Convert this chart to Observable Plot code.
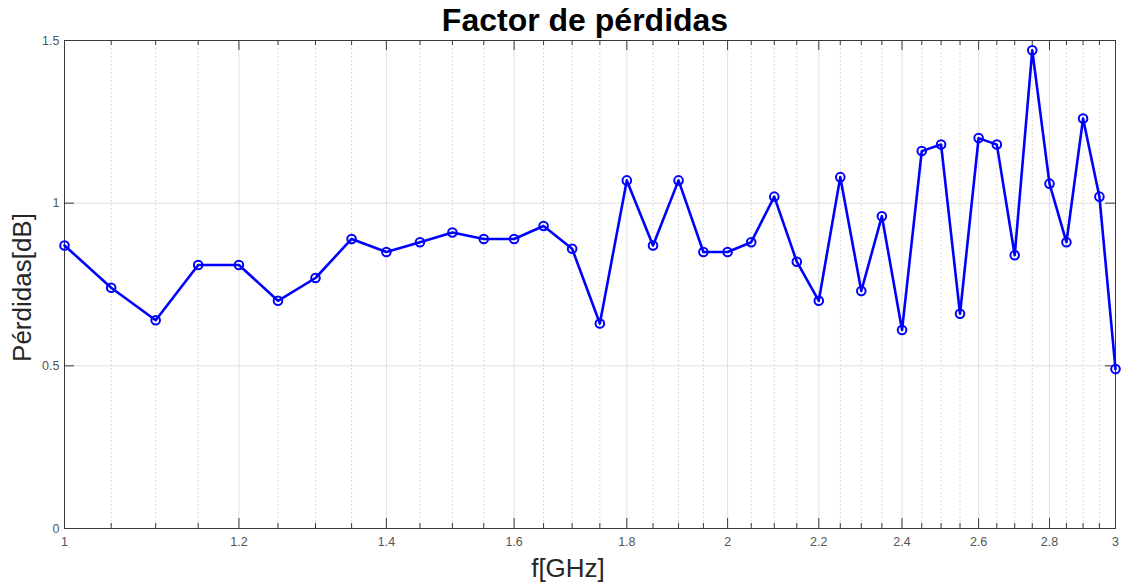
<!DOCTYPE html>
<html>
<head>
<meta charset="utf-8">
<script src="https://cdn.jsdelivr.net/npm/d3@7"></script>
<script src="https://cdn.jsdelivr.net/npm/@observablehq/plot@0.6"></script>
<style>
  html, body { margin: 0; padding: 0; background: #fff; }
  #chart svg { display: block; }
</style>
</head>
<body>
<div id="chart"></div>
<script>
// Frequency (GHz) and losses (dB)
const freq = [1.00, 1.05, 1.10, 1.15, 1.20, 1.25, 1.30, 1.35, 1.40, 1.45,
              1.50, 1.55, 1.60, 1.65, 1.70, 1.75, 1.80, 1.85, 1.90, 1.95,
              2.00, 2.05, 2.10, 2.15, 2.20, 2.25, 2.30, 2.35, 2.40, 2.45,
              2.50, 2.55, 2.60, 2.65, 2.70, 2.75, 2.80, 2.85, 2.90, 2.95, 3.00];
const loss = [0.87, 0.74, 0.64, 0.81, 0.81, 0.70, 0.77, 0.89, 0.85, 0.88,
              0.91, 0.89, 0.89, 0.93, 0.86, 0.63, 1.07, 0.87, 1.07, 0.85,
              0.85, 0.88, 1.02, 0.82, 0.70, 1.08, 0.73, 0.96, 0.61, 1.16,
              1.18, 0.66, 1.20, 1.18, 0.84, 1.47, 1.06, 0.88, 1.26, 1.02, 0.49];

const xMajorTicks = [1, 1.2, 1.4, 1.6, 1.8, 2, 2.2, 2.4, 2.6, 2.8, 3];
const xTickLabels = ["1", "1.2", "1.4", "1.6", "1.8", "2", "2.2", "2.4", "2.6", "2.8", "3"];
const xMinorTicks = [1.05, 1.10, 1.15, 1.25, 1.30, 1.35, 1.45, 1.50, 1.55, 1.65, 1.70, 1.75,
                     1.85, 1.90, 1.95, 2.05, 2.10, 2.15, 2.25, 2.30, 2.35, 2.45, 2.50, 2.55,
                     2.65, 2.70, 2.75, 2.85, 2.90, 2.95];
const yTicks = [0, 0.5, 1, 1.5];
const yTickLabels = ["0", "0.5", "1", "1.5"];

const title = "Factor de pérdidas";
const xLabel = "f[GHz]";
const yLabel = "Pérdidas[dB]";

const data = freq.map((f, i) => ({f, v: loss[i]}));

const W = 1122, H = 584;
const mL = 64, mR = 7, mT = 40, mB = 56;
const innerW = W - mL - mR, innerH = H - mT - mB;
const frameColor = "#3a3a3a";
const gridColor = "#e0e0e0";
const tickTextColor = "#555555";

const chart = Plot.plot({
  width: W,
  height: H,
  marginLeft: mL,
  marginRight: mR,
  marginTop: mT,
  marginBottom: mB,
  style: {fontFamily: "Liberation Sans, Arial, sans-serif", background: "#fff"},
  x: {type: "log", domain: [1, 3], axis: null},
  y: {domain: [0, 1.5], axis: null},
  marks: [
    // minor dotted grid
    Plot.ruleX(xMinorTicks, {stroke: "#cfcfcf", strokeDasharray: "1.5,2.5", strokeWidth: 1}),
    // major grid
    Plot.ruleX(xMajorTicks, {stroke: gridColor, strokeWidth: 1}),
    Plot.ruleY(yTicks, {stroke: gridColor, strokeWidth: 1}),
    // frame
    Plot.frame({stroke: frameColor, strokeWidth: 1}),
    // inward ticks: bottom & top
    Plot.tickX(xMajorTicks, {stroke: frameColor, insetTop: innerH - 10}),
    Plot.tickX(xMajorTicks, {stroke: frameColor, insetBottom: innerH - 10}),
    Plot.tickX(xMinorTicks, {stroke: frameColor, insetTop: innerH - 5}),
    Plot.tickX(xMinorTicks, {stroke: frameColor, insetBottom: innerH - 5}),
    // inward ticks: left & right
    Plot.tickY(yTicks, {stroke: frameColor, insetRight: innerW - 10}),
    Plot.tickY(yTicks, {stroke: frameColor, insetLeft: innerW - 10}),
    // tick labels
    Plot.axisX(xMajorTicks, {
      anchor: "bottom", tickSize: 0, tickPadding: 9, fontSize: 12.5,
      fill: tickTextColor, stroke: null, label: null,
      tickFormat: d => xTickLabels[xMajorTicks.indexOf(d)]
    }),
    Plot.axisY(yTicks, {
      anchor: "left", tickSize: 0, tickPadding: 5, fontSize: 12.5,
      fill: tickTextColor, stroke: null, label: null,
      tickFormat: d => yTickLabels[yTicks.indexOf(d)]
    }),
    // data
    Plot.line(data, {x: "f", y: "v", stroke: "#0000ff", strokeWidth: 2.6}),
    Plot.dot(data, {x: "f", y: "v", r: 4.3, stroke: "#0000ff", strokeWidth: 2, fill: "none"}),
    // title and axis labels
    Plot.text([title], {frameAnchor: "top", dy: -20, dx: -5, fontSize: 32, fontWeight: "bold", fill: "#000", lineAnchor: "middle"}),
    Plot.text([xLabel], {frameAnchor: "bottom", dy: 40, dx: -22, fontSize: 26, fill: "#262626", lineAnchor: "middle"}),
    Plot.text([yLabel], {frameAnchor: "left", dx: -42, dy: 3, rotate: -90, textAnchor: "middle", fontSize: 26, fill: "#262626", lineAnchor: "middle"})
  ]
});

document.getElementById("chart").appendChild(chart);
</script>
</body>
</html>
